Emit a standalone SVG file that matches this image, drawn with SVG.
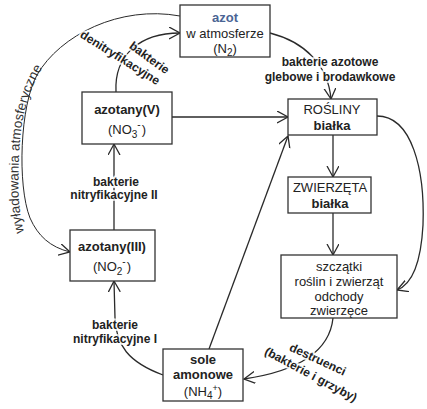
<svg xmlns="http://www.w3.org/2000/svg" width="427" height="409" viewBox="0 0 427 409">
<defs>
<marker id="arr" markerUnits="userSpaceOnUse" markerWidth="14" markerHeight="14" refX="11" refY="6" orient="auto">
<path d="M0,0 L11,6 L0,12" fill="none" stroke="#2a2a2a" stroke-width="1.3"/>
</marker>
<style>
.box{fill:#fff;stroke:#333;stroke-width:1.3}
.t{font-family:"Liberation Sans",Arial,sans-serif;font-size:13px;fill:#222;text-anchor:middle}
.b{font-weight:bold}
.w{font-family:"Liberation Sans",Arial,sans-serif;font-size:13.5px;fill:#333}
.lbl{font-family:"Liberation Sans",Arial,sans-serif;font-size:12px;font-weight:bold;fill:#222;text-anchor:middle;stroke:#fff;stroke-width:4;stroke-opacity:0.8;stroke-linejoin:round;paint-order:stroke}
.sub{font-size:10px}
.c{fill:none;stroke:#2a2a2a;stroke-width:1.3;marker-end:url(#arr)}
.arc{fill:none;stroke:#2a2a2a;stroke-width:1;marker-end:url(#arr)}
</style>
<path id="wpath" d="M24,232 C18,212 18,185 19,157 C20,120 28,92 42,68 L60,46"/>
</defs>
<rect width="427" height="409" fill="#fff"/>
<g id="connectors">
<path class="arc" d="M180,16 C120,5 60,35 37,75 C20,105 17,185 30,218 C38,236 50,247 70,252"/>
<path class="c" d="M116,92 C114,55 140,33 180,33"/>
<path class="c" d="M270,33 C305,42 328,65 331,99"/>
<path class="c" d="M172,117 L288,117"/>
<path class="c" d="M209,349 L288,136"/>
<path class="c" d="M333,135 L333,177"/>
<path class="c" d="M333,213 L333,255"/>
<path class="c" d="M377,116 C412,116 425,170 423,225 C421,262 413,284 397,290"/>
<path class="c" d="M333,318 C330,348 305,370 244,379"/>
<path class="c" d="M163,375 C128,362 116,345 115,318 L114,281"/>
<path class="c" d="M114,230 L114,144"/>
</g>
<g id="labels">
<text class="w"><textPath href="#wpath">wyładowania atmosferyczne</textPath></text>
<text class="lbl" transform="translate(147,61) rotate(36)">bakterie</text>
<text class="lbl" transform="translate(118,61) rotate(32)">denitryfikacyjne</text>
<text class="lbl" x="330" y="66">bakterie azotowe</text>
<text class="lbl" x="330" y="81">glebowe i brodawkowe</text>
<text class="lbl" x="116" y="186">bakterie</text>
<text class="lbl" x="114" y="199">nitryfikacyjne II</text>
<text class="lbl" x="115" y="329">bakterie</text>
<text class="lbl" x="115" y="343">nitryfikacyjne I</text>
<text class="lbl" transform="translate(316,363) rotate(25)">destruenci</text>
<text class="lbl" transform="translate(309,378) rotate(28)">(bakterie i grzyby)</text>
</g>
<g id="azot">
<rect class="box" x="180" y="5" width="90" height="52"/>
<text class="t b" x="225" y="22" style="fill:#4a6494">azot</text>
<text class="t" x="225" y="38">w atmosferze</text>
<text class="t" x="225" y="53">(N<tspan class="sub" dy="3">2</tspan><tspan dy="-3">)</tspan></text>
</g>
<g id="azotanyV">
<rect class="box" x="82" y="92" width="90" height="52"/>
<text class="t b" x="127" y="114">azotany(V)</text>
<text class="t" x="127" y="134">(NO<tspan class="sub" dy="4">3</tspan><tspan font-size="10" dy="-10">-</tspan><tspan dx="1" dy="6">)</tspan></text>
</g>
<g id="azotanyIII">
<rect class="box" x="70" y="230" width="85" height="51"/>
<text class="t b" x="112" y="251">azotany(III)</text>
<text class="t" x="112" y="271">(NO<tspan class="sub" dy="4">2</tspan><tspan font-size="10" dy="-10">-</tspan><tspan dx="1" dy="6">)</tspan></text>
</g>
<g id="sole">
<rect class="box" x="163" y="349" width="80" height="52"/>
<text class="t b" x="203" y="364">sole</text>
<text class="t b" x="203" y="379">amonowe</text>
<text class="t" x="203" y="396">(NH<tspan class="sub" dy="3">4</tspan><tspan font-size="9" dy="-8">+</tspan><tspan dy="5">)</tspan></text>
</g>
<g id="rosliny">
<rect class="box" x="288" y="99" width="89" height="36"/>
<text class="t" x="332" y="114">ROŚLINY</text>
<text class="t b" x="332" y="130">białka</text>
</g>
<g id="zwierzeta">
<rect class="box" x="288" y="177" width="83" height="36"/>
<text class="t" x="330" y="192">ZWIERZĘTA</text>
<text class="t b" x="330" y="208">białka</text>
</g>
<g id="szczatki">
<rect class="box" x="281" y="255" width="116" height="63"/>
<text class="t" x="339" y="271">szczątki</text>
<text class="t" x="339" y="286">roślin i zwierząt</text>
<text class="t" x="339" y="301">odchody</text>
<text class="t" x="339" y="315">zwierzęce</text>
</g>
</svg>
